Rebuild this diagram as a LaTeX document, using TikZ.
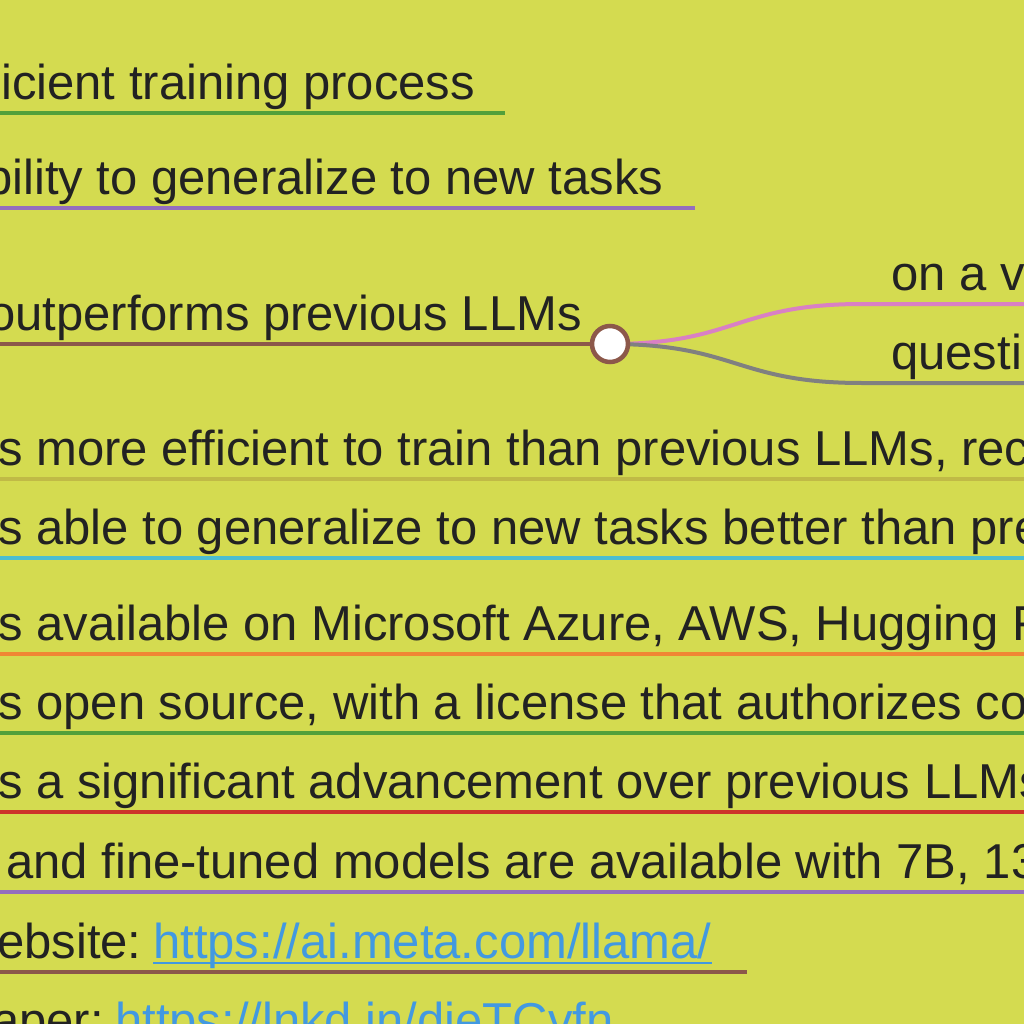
\documentclass[tikz,border=0pt]{standalone}
\usepackage{fontspec}
\setmainfont{Liberation Sans}
\definecolor{bg}{RGB}{212,219,80}
\definecolor{ctext}{RGB}{34,34,34}
\definecolor{cgreen}{RGB}{82,160,58}
\definecolor{cpurple}{RGB}{148,110,190}
\definecolor{cbrown}{RGB}{140,88,74}
\definecolor{cpink}{RGB}{217,128,196}
\definecolor{cgray}{RGB}{128,128,128}
\definecolor{colive}{RGB}{192,186,70}
\definecolor{ccyan}{RGB}{76,190,210}
\definecolor{corange}{RGB}{240,134,52}
\definecolor{cred}{RGB}{205,52,42}
\definecolor{clink}{RGB}{66,153,225}
\tikzset{
  lbl/.style={anchor=base west, inner sep=0pt, text=ctext, font=\fontsize{49}{58}\selectfont},
  edge/.style={line width=4pt},
  hubdot/.style={circle, draw=cbrown, fill=white, line width=4.5pt, minimum size=36pt, inner sep=0pt},
  urlline/.style={clink, line width=2.5pt}
}
\begin{document}
\begin{tikzpicture}[x=1pt,y=-1pt]
\fill[bg] (0,0) rectangle (1024,1024);
\useasboundingbox (0,0) rectangle (1024,1024);
\clip (0,0) rectangle (1024,1024);
\coordinate (e1) at (505,113);
\coordinate (e2) at (695,208);
\coordinate (hub) at (610,344);
\draw[edge, cgreen] (-20,113) -- (e1);
\node[lbl] (train) at (1,100) {icient training process};
\draw[edge, cpurple] (-20,208) -- (e2);
\node[lbl] (general) at (-15,195) {bility to generalize to new tasks};
\draw[edge, cbrown] (-20,344) -- (hub);
\node[lbl] (outperf) at (-12,330) {outperforms previous LLMs};
\coordinate (c1) at (862,304);
\coordinate (c2) at (862,383);
\draw[edge, cpink] (hub) .. controls (736,344) and (736,304) .. (c1) -- (1030,304);
\draw[edge, cgray] (hub) .. controls (736,344) and (736,383) .. (c2) -- (1030,383);
\node[hubdot] (hubnode) at (hub) {};
\node[lbl] (varied) at (891,290) {on a va};
\node[lbl] (quest) at (891,369) {questi};
\draw[edge, colive] (-20,479) -- (1030,479);
\node[lbl] (effic) at (-2,465) {s more efficient to train than previous LLMs, rec};
\draw[edge, ccyan] (-20,558) -- (1030,558);
\node[lbl] (able) at (-2,544) {s able to generalize to new tasks better than pre};
\draw[edge, corange] (-20,654) -- (1030,654);
\node[lbl] (avail) at (-2,640) {s available on Microsoft Azure, AWS, Hugging F};
\draw[edge, cgreen] (-20,733) -- (1030,733);
\node[lbl] (open) at (-2,719) {s open source, with a license that authorizes co};
\draw[edge, cred] (-20,812) -- (1030,812);
\node[lbl] (adv) at (-2,798) {s a significant advancement over previous LLMs};
\draw[edge, cpurple] (-20,892) -- (1030,892);
\node[lbl] (models) at (6,878) {and fine-tuned models are available with 7B, 13};
\coordinate (e10) at (747,972);
\draw[edge, cbrown] (-20,972) -- (e10);
\node[lbl] (web) at (-3,958) {ebsite:};
\node[lbl, text=clink] (weburl) at (153,958) {https://ai.meta.com/llama/};
\draw[urlline] ([yshift=-5pt]weburl.base west) -- ([yshift=-5pt]weburl.base east);
\node[lbl] (paper) at (-8,1037) {aper:};
\node[lbl, text=clink] (paperurl) at (115,1037) {https://lnkd.in/dieTCvfn};
\end{tikzpicture}
\end{document}
